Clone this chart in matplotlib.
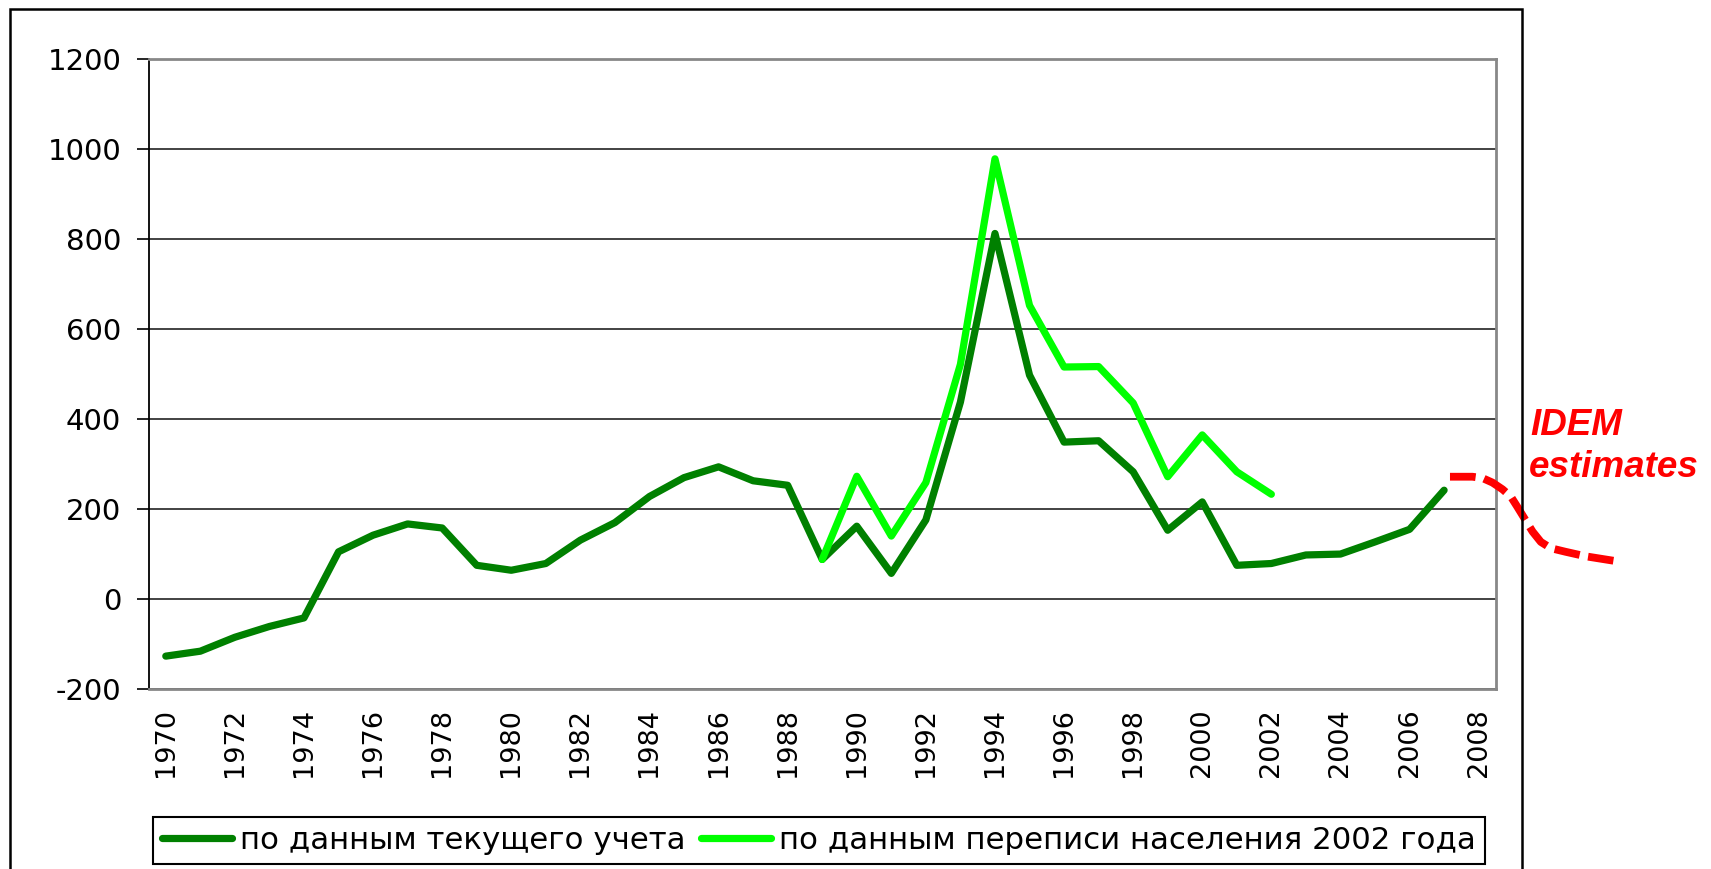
import numpy as np
import matplotlib.pyplot as plt
from matplotlib.patches import Rectangle

# данные (тыс. чел.)
anos = list(range(1970, 2008))
tekushiy = [-128, -117, -86, -62, -43, 104, 141, 166, 157, 74,
            63, 78, 130, 169, 227, 269, 293, 262, 252, 87,
            161, 56, 175, 437, 812, 497, 348, 351, 282, 152,
            215, 74, 78, 97, 99, 126, 154, 241]

anos_perepis = list(range(1989, 2003))
perepis = [87, 272, 139, 258, 521, 978, 652, 515, 516, 435, 271, 364, 282, 232]

# оценка IDEM (красная пунктирная)
anos_idem = [2007.17, 2007.82, 2008.11, 2008.40, 2008.69, 2008.93, 2009.12,
             2009.32, 2009.56, 2009.80, 2010.09, 2010.52, 2011.10, 2012.08]
idem = [271, 271, 268, 258, 243, 227, 204, 179, 149, 126, 112, 104, 94, 82]

etiquetas = ['по данным текущего учета', 'по данным переписи населения 2002 года']
anos_ticks = list(range(1970, 2009, 2))
y_ticks = list(range(-200, 1201, 200))

plt.rcParams['font.family'] = ['DejaVu Sans']
plt.rcParams['axes.unicode_minus'] = False

fig = plt.figure(figsize=(17.11, 8.69), dpi=100)
ax = fig.add_axes([0.0868, 0.2077, 0.7875, 0.7244])

ax.plot(anos, tekushiy, color='#008000', lw=5.2, solid_joinstyle='round',
        solid_capstyle='round', label=etiquetas[0])
ax.plot(anos_perepis, perepis, color='#00ff00', lw=5.2, solid_joinstyle='round',
        solid_capstyle='round', label=etiquetas[1])
ax.plot(anos_idem, idem, color='#ff0000', lw=5.6, linestyle=(0, (3.3, 1.1)),
        clip_on=False, zorder=5)

ax.set_xlim(1969.5, 2008.5)
ax.set_ylim(-200, 1200)
ax.set_yticks(y_ticks)
ax.set_xticks(anos_ticks)
ax.set_xticklabels([str(a) for a in anos_ticks], rotation=90)
ax.tick_params(axis='x', length=0, pad=14, labelsize=19.5)
ax.tick_params(axis='y', length=8.6, width=1.2, pad=11, labelsize=21, direction='out')

ax.grid(axis='y', color='#222222', lw=1.2)
ax.set_axisbelow(True)
for s in ['top', 'right', 'bottom']:
    ax.spines[s].set_color('#888888')
    ax.spines[s].set_linewidth(2)
ax.spines['left'].set_color('black')
ax.spines['left'].set_linewidth(1.3)

leg = ax.legend(loc='lower left', bbox_to_anchor=(153/1711, 5/869, 1332/1711, 53/869),
                bbox_transform=fig.transFigure, mode='expand', ncol=2, fontsize=22.2,
                fancybox=False, edgecolor='black', framealpha=1, handlelength=2.27,
                handletextpad=0.26, borderaxespad=0, borderpad=0.3, columnspacing=0.42)
leg.get_frame().set_linewidth(1.5)

# подпись IDEM
fig.text(1530/1711, 1 - 435/869, 'IDEM', color='#ff0000', fontsize=26.5,
         fontweight='bold', fontstyle='italic', family='Liberation Sans', va='baseline')
fig.text(1529/1711, 1 - 477/869, 'estimates', color='#ff0000', fontsize=26.5,
         fontweight='bold', fontstyle='italic', family='Liberation Sans', va='baseline')

# рамка
marco = Rectangle((10/1711, -0.05), 1512/1711, 1 - 9/869 + 0.05, transform=fig.transFigure,
                  fill=False, ec='black', lw=1.8, clip_on=False)
fig.add_artist(marco)

fig.savefig('out.png', dpi=100)
